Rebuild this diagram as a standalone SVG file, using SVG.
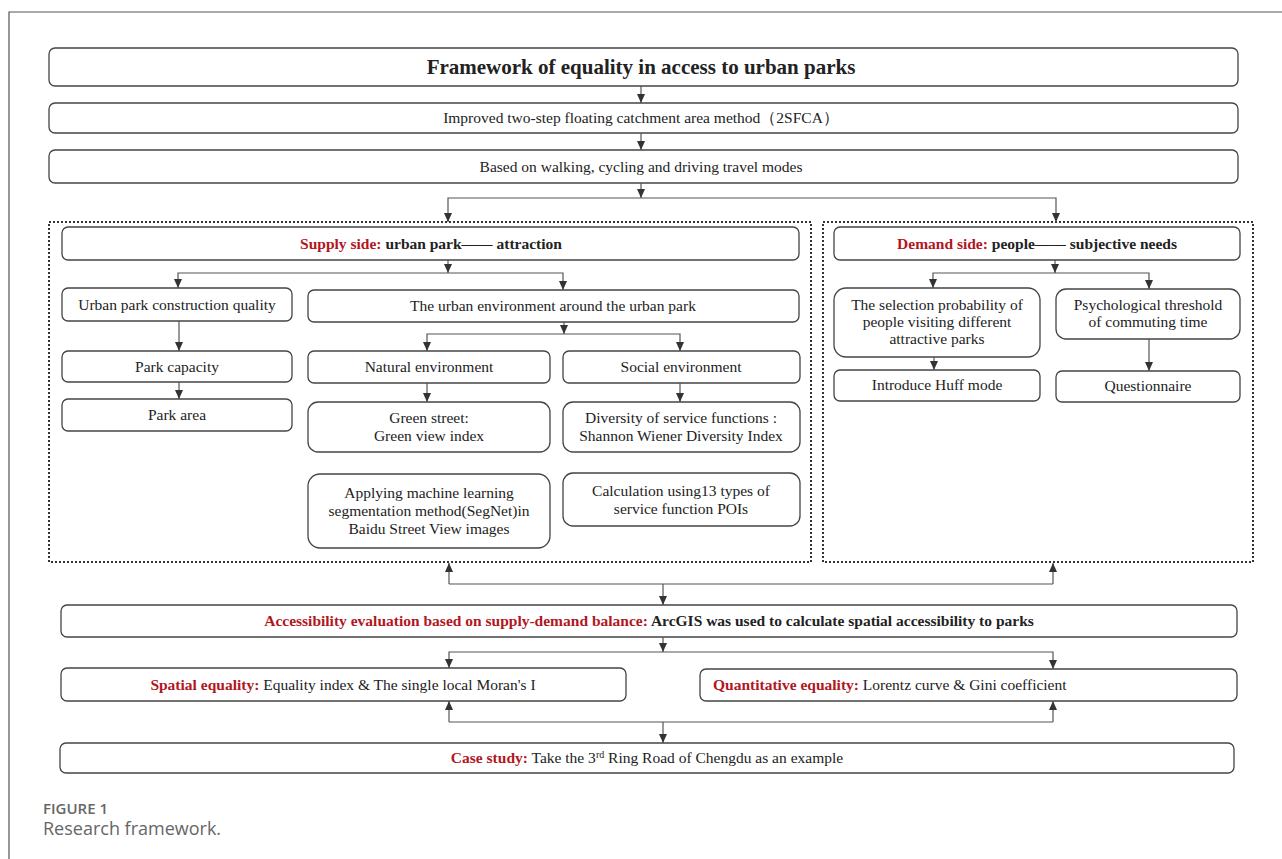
<svg xmlns="http://www.w3.org/2000/svg" width="1282" height="859" viewBox="0 0 1282 859">
<defs>
<marker id="ah" markerUnits="userSpaceOnUse" markerWidth="9" markerHeight="9" refX="9" refY="4" orient="auto">
<path d="M0,0 L9,4 L0,8 z" fill="#333"/>
</marker>
<style>
.bx{fill:#fff;stroke:#444;stroke-width:1.3}
.dot{fill:none;stroke:#333;stroke-width:2;stroke-dasharray:2 2}
.t{font-family:"Liberation Serif","Times New Roman",serif;font-size:15.5px;fill:#222;text-anchor:middle}
.b{font-weight:bold}
.red{fill:#b2161e;font-weight:bold}
.ln{fill:none;stroke:#555;stroke-width:1.2}
.ar{fill:none;stroke:#555;stroke-width:1.2;marker-end:url(#ah)}
.cap{font-family:"Open Sans","Noto Sans",sans-serif;fill:#666}
</style>
</defs>
<rect width="1282" height="859" fill="#fff"/>
<path d="M9,859 V12 H1282" fill="none" stroke="#555" stroke-width="1.2"/>

<g id="n-title"><rect class="bx" x="49" y="48" width="1189" height="38" rx="6"/><text class="t b" x="641" y="74" style="font-size:21px">Framework of equality in access to urban parks</text></g>
<g id="n-2sfca"><rect class="bx" x="49" y="103" width="1189" height="30" rx="6"/><text class="t" x="641" y="123">Improved two-step floating catchment area method（2SFCA）</text></g>
<g id="n-modes"><rect class="bx" x="49" y="150" width="1189" height="33" rx="6"/><text class="t" x="641" y="172">Based on walking, cycling and driving travel modes</text></g>

<g id="supply-frame"><rect class="dot" x="49" y="222" width="762" height="340"/></g>
<g id="demand-frame"><rect class="dot" x="823" y="222" width="430" height="340"/></g>

<g id="n-supply"><rect class="bx" x="62" y="227" width="737" height="33" rx="6"/><text class="t b" x="431" y="249"><tspan class="red">Supply side:</tspan> urban park—— attraction</text></g>
<g id="n-quality"><rect class="bx" x="62" y="288" width="230" height="33" rx="6"/><text class="t" x="177" y="310">Urban park construction quality</text></g>
<g id="n-capacity"><rect class="bx" x="62" y="351" width="230" height="31" rx="6"/><text class="t" x="177" y="372">Park capacity</text></g>
<g id="n-area"><rect class="bx" x="62" y="399" width="230" height="32" rx="6"/><text class="t" x="177" y="420">Park area</text></g>
<g id="n-env"><rect class="bx" x="308" y="290" width="491" height="32" rx="6"/><text class="t" x="553" y="311">The urban environment around the urban park</text></g>
<g id="n-natural"><rect class="bx" x="308" y="351" width="242" height="32" rx="6"/><text class="t" x="429" y="372">Natural environment</text></g>
<g id="n-social"><rect class="bx" x="563" y="351" width="237" height="32" rx="6"/><text class="t" x="681" y="372">Social environment</text></g>
<g id="n-green"><rect class="bx" x="308" y="402" width="242" height="50" rx="10"/><text class="t" x="429" y="423">Green street:</text><text class="t" x="429" y="441">Green view index</text></g>
<g id="n-diversity"><rect class="bx" x="563" y="402" width="237" height="50" rx="10"/><text class="t" x="681" y="423">Diversity of service functions :</text><text class="t" x="681" y="441">Shannon Wiener Diversity Index</text></g>
<g id="n-segnet"><rect class="bx" x="308" y="474" width="242" height="74" rx="12"/><text class="t" x="429" y="498">Applying machine learning</text><text class="t" x="429" y="516">segmentation method(SegNet)in</text><text class="t" x="429" y="534">Baidu Street View images</text></g>
<g id="n-poi"><rect class="bx" x="563" y="473" width="237" height="53" rx="10"/><text class="t" x="681" y="496">Calculation using13 types of</text><text class="t" x="681" y="514">service function POIs</text></g>

<g id="n-demand"><rect class="bx" x="834" y="227" width="406" height="33" rx="6"/><text class="t b" x="1037" y="249"><tspan class="red">Demand side:</tspan> people—— subjective needs</text></g>
<g id="n-selection"><rect class="bx" x="834" y="288" width="206" height="69" rx="12"/><text class="t" x="937" y="310">The selection probability of</text><text class="t" x="937" y="327">people visiting different</text><text class="t" x="937" y="344">attractive parks</text></g>
<g id="n-psych"><rect class="bx" x="1056" y="289" width="184" height="50" rx="10"/><text class="t" x="1148" y="310">Psychological threshold</text><text class="t" x="1148" y="327">of commuting time</text></g>
<g id="n-huff"><rect class="bx" x="834" y="370" width="206" height="31" rx="6"/><text class="t" x="937" y="390">Introduce Huff mode</text></g>
<g id="n-quest"><rect class="bx" x="1056" y="371" width="184" height="31" rx="6"/><text class="t" x="1148" y="391">Questionnaire</text></g>

<g id="n-access"><rect class="bx" x="61" y="605" width="1176" height="32" rx="6"/><text class="t b" x="649" y="626"><tspan class="red">Accessibility evaluation based on supply-demand balance:</tspan> ArcGIS was used to calculate spatial accessibility to parks</text></g>
<g id="n-spatial"><rect class="bx" x="61" y="668" width="565" height="33" rx="6"/><text class="t" x="343" y="690"><tspan class="red">Spatial equality:</tspan> Equality index &amp; The single local Moran's I</text></g>
<g id="n-quant"><rect class="bx" x="700" y="669" width="537" height="32" rx="6"/><text class="t" x="713" y="690" style="text-anchor:start"><tspan class="red">Quantitative equality:</tspan> Lorentz curve &amp; Gini coefficient</text></g>
<g id="n-case"><rect class="bx" x="60" y="743" width="1174" height="30" rx="6"/><text class="t" x="647" y="763"><tspan class="red">Case study:</tspan> Take the 3<tspan baseline-shift="super" style="font-size:10px">rd</tspan> Ring Road of Chengdu as an example</text></g>

<g id="connectors">
<path class="ar" d="M641,86 V103"/>
<path class="ar" d="M641,133 V150"/>
<path class="ar" d="M641,183 V198"/>
<path class="ar" d="M641,198 H448 V222"/>
<path class="ar" d="M641,198 H1056 V222"/>
<path class="ar" d="M448,260 V273"/>
<path class="ar" d="M448,273 H178 V288"/>
<path class="ar" d="M448,273 H563 V290"/>
<path class="ar" d="M179,321 V351"/>
<path class="ar" d="M179,382 V399"/>
<path class="ar" d="M564,322 V334"/>
<path class="ar" d="M564,334 H427 V351"/>
<path class="ar" d="M564,334 H680 V351"/>
<path class="ar" d="M427,383 V402"/>
<path class="ar" d="M680,383 V402"/>
<path class="ar" d="M1055,260 V273"/>
<path class="ar" d="M1055,273 H933 V288"/>
<path class="ar" d="M1055,273 H1149 V289"/>
<path class="ar" d="M934,357 V370"/>
<path class="ar" d="M1149,339 V371"/>
<path class="ln" d="M449,584 H1053"/>
<path class="ar" d="M449,584 V563"/>
<path class="ar" d="M1053,584 V563"/>
<path class="ar" d="M663,584 V605"/>
<path class="ar" d="M663,637 V652"/>
<path class="ar" d="M663,652 H449 V668"/>
<path class="ar" d="M663,652 H1053 V669"/>
<path class="ln" d="M449,722 H1053"/>
<path class="ar" d="M449,722 V701"/>
<path class="ar" d="M1053,722 V701"/>
<path class="ar" d="M663,722 V743"/>
</g>

<g id="caption">
<text class="cap" x="43" y="814" style="font-size:15px;font-weight:600">FIGURE 1</text>
<text class="cap" x="43" y="835" style="font-size:18px">Research framework.</text>
</g>
</svg>
